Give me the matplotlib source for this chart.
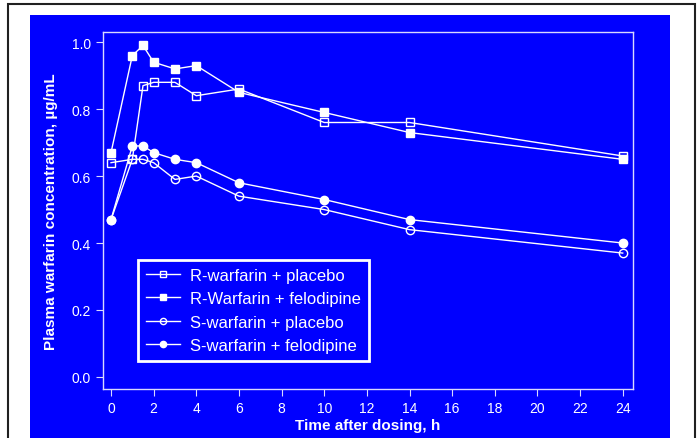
import matplotlib.pyplot as plt
from matplotlib.patches import Rectangle

plt.rcParams['font.family'] = ['Liberation Sans', 'DejaVu Sans']

# data
time_h = [0, 1, 1.5, 2, 3, 4, 6, 10, 14, 24]
r_placebo = [0.64, 0.65, 0.87, 0.88, 0.88, 0.84, 0.86, 0.76, 0.76, 0.66]
r_felodipine = [0.67, 0.96, 0.99, 0.94, 0.92, 0.93, 0.85, 0.79, 0.73, 0.65]
s_placebo = [0.47, 0.65, 0.65, 0.64, 0.59, 0.60, 0.54, 0.50, 0.44, 0.37]
s_felodipine = [0.47, 0.69, 0.69, 0.67, 0.65, 0.64, 0.58, 0.53, 0.47, 0.40]
labels = ["R-warfarin + placebo", "R-Warfarin + felodipine",
          "S-warfarin + placebo", "S-warfarin + felodipine"]
x_ticks = list(range(0, 25, 2))
y_ticks = [0.0, 0.2, 0.4, 0.6, 0.8, 1.0]

blue = '#0000ff'
pale = '#d8d8ff'

fig = plt.figure(figsize=(6.97, 4.39), dpi=100)
fig.patch.set_facecolor('white')
# outer black frame and blue panel (behind the axes)
fig.patches.append(Rectangle((0.0115, -0.05), 0.9855, 1.0386, transform=fig.transFigure,
                             fill=False, edgecolor='#202020', linewidth=1.5, zorder=-2))
fig.patches.append(Rectangle((0.043, 0.0), 0.918, 0.9636, transform=fig.transFigure,
                             facecolor=blue, edgecolor='none', zorder=-1))

ax = fig.add_axes([0.1478, 0.1116, 0.760, 0.813])
ax.set_facecolor(blue)

series = [(r_placebo, 's', 'none'), (r_felodipine, 's', 'white'),
          (s_placebo, 'o', 'none'), (s_felodipine, 'o', 'white')]
for (vals, mk, fc), lab in zip(series, labels):
    ax.plot(time_h, vals, color='white', linewidth=1, marker=mk, markersize=6,
            markerfacecolor=fc, markeredgecolor='white', markeredgewidth=1, label=lab)

ax.set_xlim(-0.375, 24.47)
ax.set_ylim(-0.036, 1.03)
ax.set_xticks(x_ticks)
ax.set_yticks(y_ticks)
ax.set_yticklabels([f"{v:.1f}" for v in y_ticks])
for s in ax.spines.values():
    s.set_color(pale)
    s.set_linewidth(1)
ax.tick_params(colors=pale, labelcolor='white', labelsize=10, length=5, direction='out')

ax.set_xlabel("Time after dosing, h", color='white', fontsize=11, fontweight='bold', labelpad=2)
ax.set_ylabel("Plasma warfarin concentration, µg/mL", color='white', fontsize=11,
              fontweight='bold', labelpad=10)

leg = ax.legend(loc='lower left', bbox_to_anchor=(0.066, 0.078), borderaxespad=0,
                fontsize=12, markerscale=0.75, handlelength=2.0, handletextpad=0.6,
                borderpad=0.5, labelspacing=0.5,
                fancybox=False, framealpha=1, facecolor=blue, edgecolor='white')
leg.get_frame().set_linewidth(2)
for t in leg.get_texts():
    t.set_color('white')

fig.savefig('out.png', dpi=100, facecolor=fig.get_facecolor())
